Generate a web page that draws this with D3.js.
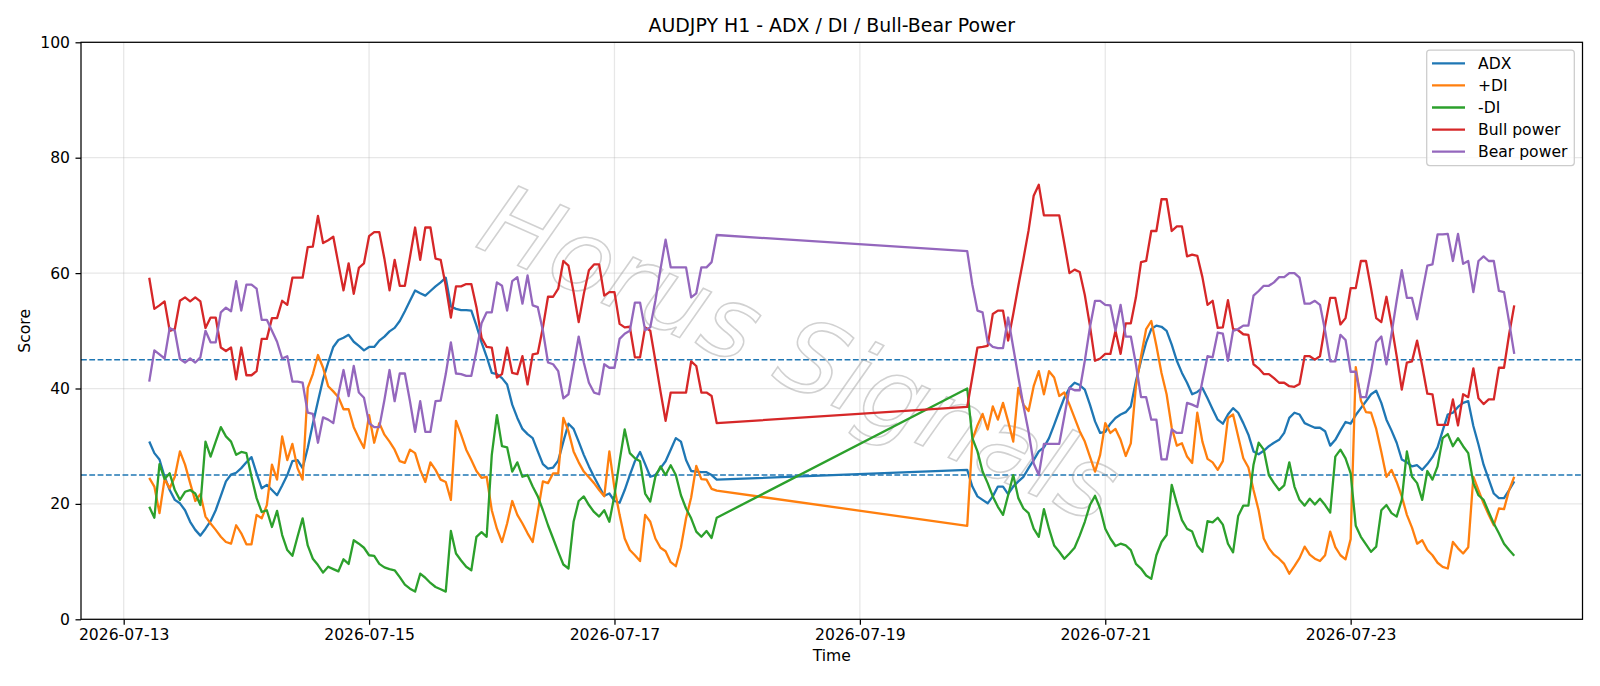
<!DOCTYPE html>
<html>
<head>
<meta charset="utf-8">
<script src="https://cdn.jsdelivr.net/npm/d3@7/dist/d3.min.js"></script>
<style>
  body { margin: 0; background: #fff; }
  svg text { font-family: "DejaVu Sans", sans-serif; fill: #000; }
</style>
</head>
<body>
<svg id="chart" width="1600" height="686"></svg>
<script>
// hourly bars, two trading sessions split by the weekend
var sessionStarts = ["2026-07-13T05:00:00Z", "2026-07-19T21:00:00Z"];
var sessionHours = [112, 108];

var adx = [
  30.8, 28.8, 27.7, 24.7, 22.4, 20.7, 20.1, 18.9, 16.9, 15.5, 14.5, 15.7, 17, 18.9, 21.4, 23.9, 25.1, 25.4, 26.2, 27.2, 28.1, 25.3, 22.7,
  23.3, 22.4, 21.5, 23.2, 25, 27.4, 27.6, 26.2, 29.7, 33.9, 37.8, 41.6, 44.5, 47.2, 48.4, 48.8, 49.3, 48.1, 47.4, 46.6, 47.2, 47.2, 48.3, 49,
  49.9, 50.5, 51.7, 53.4, 55.2, 57, 56.5, 56.1, 56.9, 57.7, 58.4, 59.2, 54.2, 53.8, 53.6, 53.6, 53.5, 50.9, 48, 45.5, 42.7, 42.5, 41.8,
  40.7, 37.2, 34.9, 33, 32.1, 31.4, 29.1, 26.9, 26.1, 26.3, 27.5, 30.8, 33.9, 33, 30.8, 28.5, 26.5, 24.7, 23, 21.4, 21.8, 20.5, 20.2, 22.4,
  25, 27.4, 29, 26.9, 24.7, 25, 26.2, 27.4, 29.4, 31.4, 30.8, 27.6, 25.7, 25.6, 25.5, 25.5, 25, 24.2,
  25.9, 23, 21.3, 20.7, 20.1, 21.3, 23, 23, 21.7, 23, 23.9, 24.7, 26.2, 27.6, 29.1, 29.8, 31.4, 33.7, 36.1, 38.4, 40.1, 41, 40.6,
  39.8, 37.2, 34.3, 32.3, 32.5, 33.9, 34.9, 35.5, 35.9, 36.9, 41.3, 44.8, 48, 50.3, 50.9, 50.7, 50, 47.6, 44.8, 42.7, 41, 39, 39.4,
  40.1, 38.3, 36.4, 34.6, 33.9, 35.5, 36.6, 35.8, 34, 32, 29.1, 28.6, 29.2, 30, 30.6, 31.1, 32.3, 34.9, 35.8, 35.5, 34, 33.6, 33.2, 33.2,
  32.6, 30.1, 31.1, 32.7, 34.2, 33.9, 35.4, 36.6, 37.8, 39, 39.6, 37.5, 34.6, 32.7, 30.6, 27.7, 27.2, 26.5, 26.7, 25.9, 26.9, 28.1, 29.8,
  32.7, 35.5, 35.8, 36.8, 37.5, 37.8, 33.5, 30.3, 26.8, 24.3, 21.8, 21, 21, 22.4, 23.9
];

var plusDI = [
  24.5, 23, 18.4, 24.3, 22.7, 24.7, 29.1, 26.8, 23.6, 20.5, 21.7, 17.8, 16.6, 15.5, 14.3, 13.4, 13.1, 16.3, 14.9, 13, 13, 18.1, 17.5,
  19.8, 26.8, 24.2, 31.7, 27.6, 30.4, 26.2, 24.2, 40.1, 42.5, 45.8, 43.6, 40.4, 39.5, 38.5, 36.4, 36.4, 33.3, 31.4, 29.7, 35.4, 30.6, 34, 32,
  30.8, 29.4, 27.4, 27.1, 29.4, 28.8, 25.9, 23.8, 27.2, 25.9, 24.2, 23.8, 20.7, 34.4, 32, 29.4, 27.6, 25.7, 24.5, 24.7, 18.9, 15.7, 13.4,
  16.6, 20.5, 18.1, 16.6, 14.9, 13.4, 18.6, 23.9, 23.6, 25.3, 25.3, 34.9, 32.6, 29.1, 27.2, 25.6, 24.6, 23.6, 22.4, 21.3, 29.1, 22.7, 18.1, 14,
  12, 11.1, 10.1, 18.1, 16.9, 14, 12.4, 11.8, 9.9, 9.2, 12.5, 17.5, 21.1, 26.6, 24.3, 24.2, 22.6, 22.3,
  16.2, 31.1, 33.6, 35.6, 32.9, 36.9, 34.6, 37.5, 34.3, 30.8, 40.1, 37.2, 36.1, 40.4, 43, 39, 43, 41.9, 38.7, 39.3, 37.2, 34.9, 32.6,
  30.8, 28.2, 25.6, 28.5, 34, 32.3, 33, 31.1, 28.3, 30.5, 40.4, 45.6, 50.3, 51.7, 47.4, 42.7, 39, 33.2, 30.1, 30.5, 28.2, 27.1, 35.8,
  30.8, 27.8, 27.2, 25.9, 27.4, 34.9, 35.5, 31.7, 27.9, 26.3, 22.4, 18.9, 14, 12.3, 11.2, 10.5, 9.6, 7.9, 9.2, 10.6, 12.6, 11.2, 10.5, 10.1,
  11.1, 15.2, 12.5, 11.1, 10.4, 13.9, 43.7, 37.9, 35.9, 35.8, 33, 29, 24.7, 25.9, 23.8, 21.3, 18.1, 15.9, 13.1, 13.7, 12, 11.1, 9.8,
  9.1, 8.8, 13.4, 12.3, 11.4, 12.5, 24.7, 22.4, 20.1, 18.1, 16.3, 19.2, 19.1, 22.4, 24.7
];

var minusDI = [
  19.5, 17.6, 26.9, 24.3, 25.3, 22.4, 20.7, 22.1, 22.4, 21.8, 19.8, 30.8, 28.2, 30.8, 33.3, 31.7, 30.8, 28.5, 29, 28.8, 24.7, 21, 18.6,
  18.9, 16, 18.8, 14.6, 12, 11, 14.3, 17.5, 12.8, 10.5, 9.4, 8.1, 9.1, 8.7, 8.3, 10.4, 9.6, 13.7, 13.1, 12.4, 11.1, 11, 9.6, 9,
  8.7, 8.5, 7.3, 6, 5.3, 4.8, 7.9, 7.2, 6.3, 5.6, 5.2, 4.8, 15.3, 11.4, 10.2, 9.1, 8.5, 14.3, 15.1, 14.3, 28.5, 35.4, 30,
  29.8, 25.6, 27.2, 24.7, 25, 23, 21.3, 18.9, 16.3, 14, 11.7, 9.5, 8.8, 16.9, 20.5, 21.3, 19.8, 18.6, 17.8, 18.9, 16.9, 21.5, 27.4, 32.9,
  28.8, 27.9, 27.4, 21.8, 20.4, 24.7, 26.5, 25, 26.7, 25, 21.5, 19.2, 17.5, 15.2, 14.3, 15.3, 14.1, 17.6,
  40, 31.4, 29.1, 25.6, 23.6, 21.3, 19.5, 18.1, 21.5, 25, 21, 19.2, 18.4, 15.7, 14.3, 19.1, 15.7, 12.8, 11.7, 10.5, 11.4, 12.4, 14.5,
  16.9, 19.8, 21.4, 19.2, 15.7, 14, 12.7, 13.1, 12.8, 12, 9.6, 8.8, 7.6, 7, 11.1, 13.4, 14.6, 23.3, 20.1, 17.2, 15.7, 15.2, 12.8,
  11.7, 17, 16.8, 17.6, 16.4, 13.1, 11.6, 17.9, 19.7, 19.7, 26.8, 30.6, 29.4, 25, 23.6, 22.4, 23.2, 27.2, 23, 20.7, 19.7, 20.9, 19.9, 20.9,
  19.8, 18.5, 28.2, 29.4, 27.9, 25.3, 16.2, 14.3, 13, 11.7, 12.6, 18.9, 19.8, 18.4, 17.8, 20.7, 29.1, 24.7, 23.6, 20.7, 25.7, 24.2, 26.5,
  31.4, 32.1, 30, 31.4, 30, 28.8, 23.6, 21.5, 20.7, 18.6, 16.6, 14.9, 13.1, 12, 11
];

var bullPower = [
  59.2, 53.8, 54.4, 55.1, 50, 50.3, 55.2, 55.8, 55.1, 55.8, 55.1, 50.5, 52.3, 52.3, 47.1, 46.5, 47.1, 41.6, 47.1, 42.3, 42.3, 43, 48.6,
  48.6, 52.2, 52.2, 55.2, 54.5, 59.2, 59.2, 59.2, 64.5, 64.6, 69.9, 65.2, 65.7, 66.3, 61.6, 57, 61.7, 56.4, 60.9, 61.7, 66.4, 67.1, 67.1, 62.5,
  57, 62.3, 57.8, 57.8, 62.8, 67.9, 62.3, 67.9, 67.9, 62.5, 62.3, 57.8, 52.3, 57.7, 57.7, 58.1, 58.1, 54.1, 48.8, 47.2, 47.1, 41.9, 42.5,
  47.1, 42.7, 42.5, 45.6, 40.7, 45.9, 46.1, 50.6, 55.9, 55.9, 57.3, 62.1, 61.3, 56.7, 51.5, 56.4, 60.5, 61.5, 61.5, 56.1, 56.7, 56.7, 51.2, 50.6,
  50.7, 45.4, 45.4, 50.6, 50, 44.8, 39.5, 34.4, 39.3, 39.3, 39.3, 39.3, 44.7, 43.9, 39.3, 39.3, 38.7, 34,
  36.8, 42, 47.1, 47.2, 47.4, 52.9, 53.5, 53.5, 48.3, 52.9, 57.8, 62.5, 67.4, 73.4, 75.3, 70, 70, 70, 70, 65.1, 60, 60.6, 60.2,
  56.2, 50.9, 44.8, 45.2, 46, 46, 50, 46, 51.3, 51.3, 55.8, 61.9, 62.1, 67.3, 67.3, 72.8, 72.8, 67.3, 68.1, 68.1, 62.9, 63.2, 63,
  59.3, 54.5, 55.2, 50.5, 50.6, 55.3, 50.3, 50.1, 49.4, 49.3, 44.2, 43.5, 42.5, 42.5, 41.8, 41, 41, 40.4, 40.3, 40.8, 45.6, 45.6, 45, 45.6,
  50.9, 55.7, 55.7, 51.1, 52.2, 57.4, 57.4, 62.1, 62.1, 57.3, 52.2, 51.5, 55.9, 51, 45.6, 39.8, 44.5, 44.7, 48.3, 43.9, 39.1, 39, 33.7,
  33.7, 33.7, 38.1, 33.6, 39, 38.5, 43.5, 38.3, 37.3, 38.1, 38.1, 43.6, 43.6, 49.4, 54.4
];

var bearPower = [
  41.2, 46.6, 45.9, 45.2, 50.5, 50, 45.1, 44.5, 45.2, 44.5, 45.4, 50, 48, 48, 53.2, 54, 53.4, 58.6, 53.5, 58, 58, 57.3, 51.9,
  51.9, 50, 48.1, 45.2, 45.6, 41.2, 41.2, 41, 35.8, 35.6, 30.6, 35, 34.6, 34, 39, 43.2, 38.7, 43.9, 39.3, 38.4, 34, 33.3, 33.3, 38,
  43.2, 37.8, 42.6, 42.6, 37.8, 32.5, 37.8, 32.5, 32.5, 37.8, 37.9, 42.5, 48, 42.6, 42.5, 42.2, 42.2, 46.5, 51.3, 53.2, 53.2, 58.4, 57.8,
  53.5, 58.6, 59.3, 54.7, 59.6, 54.4, 54.1, 50, 44.5, 44.2, 43, 38.3, 39, 43.9, 49, 44.5, 41, 39.3, 39, 44.2, 43.6, 43.6, 48.6, 49.5,
  50, 54.9, 54.9, 50.1, 50.6, 55.2, 60.7, 65.8, 61, 61, 61, 61, 55.8, 56.5, 61, 61, 61.9, 66.6,
  63.8, 58, 53.5, 53.2, 48, 47.2, 47, 47, 52.3, 47.1, 42, 37, 32.5, 27, 25, 30.4, 30.4, 30.4, 30.4, 35.2, 40.1, 39.7, 39.7,
  44.8, 50.6, 55.2, 55.2, 54.5, 54.4, 50, 54.5, 49, 49, 44.2, 38.5, 38.5, 34.6, 34.6, 27.7, 27.7, 32.9, 32.3, 32.3, 37.5, 37.2, 36.8,
  41.3, 45.6, 45.4, 49.7, 49.5, 44.8, 50, 50.3, 50.9, 50.9, 56.1, 56.9, 57.8, 57.8, 58.4, 59.3, 59.3, 60, 60, 59.2, 54.7, 54.7, 55.2, 54.5,
  50, 44.7, 44.7, 49.3, 48.4, 42.9, 42.9, 38.5, 38.5, 43, 48, 49, 44.2, 49.5, 55.2, 60.5, 55.7, 55.7, 52, 56.7, 61.3, 61.5, 66.7,
  66.7, 66.8, 62.1, 66.8, 61.6, 62.1, 56.7, 62.1, 62.9, 62.1, 62.1, 56.9, 56.7, 51.5, 46
];

var seriesNames = ["ADX", "+DI", "-DI", "Bull power", "Bear power"];
var seriesColors = ["#1f77b4", "#ff7f0e", "#2ca02c", "#d62728", "#9467bd"];
var levelLines = [45, 25];
var yTicks = [0, 20, 40, 60, 80, 100];
var xTickDays = ["2026-07-13", "2026-07-15", "2026-07-17", "2026-07-19", "2026-07-21", "2026-07-23"];

var chartTitle = "AUDJPY H1 - ADX / DI / Bull-Bear Power";
var watermark = "Horus Signals";

var W = 1600, H = 686,
    margin = {left: 81, right: 1582.5, top: 42.3, bottom: 619.3},
    FONT = 15.6;

var svg = d3.select("#chart");
svg.append("rect").attr("width", W).attr("height", H).attr("fill", "#fff");

// timestamps for every hourly value
var times = [];
sessionStarts.forEach(function(s, k) {
    var t0 = new Date(s).getTime();
    for (var i = 0; i < sessionHours[k]; i++) times.push(new Date(t0 + i * 3600e3));
});

var allSeries = [adx, plusDI, minusDI, bullPower, bearPower];

var tMin = times[0], tMax = times[times.length - 1],
    span = tMax - tMin;
var x = d3.scaleUtc()
    .domain([new Date(+tMin - span * 0.05), new Date(+tMax + span * 0.05)])
    .range([margin.left, margin.right]);
var y = d3.scaleLinear()
    .domain([0, 100])
    .range([margin.bottom, margin.top]);

var xTicks = xTickDays.map(function(d) { return new Date(d + "T00:00:00Z"); });

// grid
var grid = svg.append("g").attr("stroke", "#b0b0b0").attr("stroke-opacity", 0.3).attr("stroke-width", 1.25);
grid.selectAll(".gx").data(xTicks).enter().append("line")
    .attr("x1", function(d) { return x(d); }).attr("x2", function(d) { return x(d); })
    .attr("y1", margin.top).attr("y2", margin.bottom);
grid.selectAll(".gy").data(yTicks).enter().append("line")
    .attr("x1", margin.left).attr("x2", margin.right)
    .attr("y1", function(d) { return y(d); }).attr("y2", function(d) { return y(d); });

// reference levels
svg.append("g").selectAll("line").data(levelLines).enter().append("line")
    .attr("x1", margin.left).attr("x2", margin.right)
    .attr("y1", function(d) { return y(d); }).attr("y2", function(d) { return y(d); })
    .attr("stroke", "#1f77b4").attr("stroke-width", 1.5)
    .attr("stroke-dasharray", "5.8,2.5");

// watermark
var wx = 797, wy = 360;
svg.append("text")
    .attr("transform", "translate(" + wx + "," + wy + ") rotate(24)")
    .attr("text-anchor", "middle")
    .attr("dominant-baseline", "middle")
    .style("font-size", "100px")
    .style("font-style", "italic")
    .style("fill", "none")
    .style("stroke", "#999")
    .style("stroke-width", 1.6)
    .style("stroke-opacity", 0.45)
    .text(watermark);

// series lines
var line = d3.line()
    .x(function(d) { return x(d[0]); })
    .y(function(d) { return y(d[1]); });

allSeries.forEach(function(vals, k) {
    var pts = vals.map(function(v, i) { return [times[i], v]; });
    svg.append("path")
        .datum(pts)
        .attr("d", line)
        .attr("fill", "none")
        .attr("stroke", seriesColors[k])
        .attr("stroke-width", 2.3)
        .attr("stroke-linejoin", "round")
        .attr("stroke-linecap", "butt");
});

// axes
var xAxis = d3.axisBottom(x).tickValues(xTicks).tickFormat(d3.utcFormat("%Y-%m-%d"))
    .tickSize(5.5).tickSizeOuter(0).tickPadding(4.5);
var gx = svg.append("g").attr("transform", "translate(0," + margin.bottom + ")").call(xAxis);
var yAxis = d3.axisLeft(y).tickValues(yTicks).tickSize(5.5).tickSizeOuter(0).tickPadding(5.5);
var gy = svg.append("g").attr("transform", "translate(" + margin.left + ",0)").call(yAxis);
[gx, gy].forEach(function(g) {
    g.select(".domain").remove();
    g.selectAll(".tick line").attr("stroke", "#000").attr("stroke-width", 1.25);
    g.selectAll(".tick text").style("font-size", FONT + "px").attr("fill", "#000");
});

// frame
svg.append("rect")
    .attr("x", margin.left).attr("y", margin.top)
    .attr("width", margin.right - margin.left).attr("height", margin.bottom - margin.top)
    .attr("fill", "none").attr("stroke", "#000").attr("stroke-width", 1.25);

// titles
svg.append("text").attr("x", (margin.left + margin.right) / 2).attr("y", 31.5)
    .attr("text-anchor", "middle").style("font-size", "18.9px").text(chartTitle);
svg.append("text").attr("x", (margin.left + margin.right) / 2).attr("y", 661)
    .attr("text-anchor", "middle").style("font-size", FONT + "px").text("Time");
svg.append("text").attr("transform", "translate(30," + ((margin.top + margin.bottom) / 2) + ") rotate(-90)")
    .attr("text-anchor", "middle").style("font-size", FONT + "px").text("Score");

// legend
var lg = svg.append("g");
lg.append("rect").attr("x", 1426.7).attr("y", 50).attr("width", 147.6).attr("height", 115.5)
    .attr("rx", 3).attr("fill", "#fff").attr("fill-opacity", 0.8)
    .attr("stroke", "#cccccc").attr("stroke-width", 1.25);
seriesNames.forEach(function(name, k) {
    var ly = 63.3 + k * 22.1;
    lg.append("line").attr("x1", 1432).attr("x2", 1465).attr("y1", ly).attr("y2", ly)
        .attr("stroke", seriesColors[k]).attr("stroke-width", 2.3);
    lg.append("text").attr("x", 1478).attr("y", ly + 5.6).style("font-size", FONT + "px").text(name);
});
</script>
</body>
</html>
